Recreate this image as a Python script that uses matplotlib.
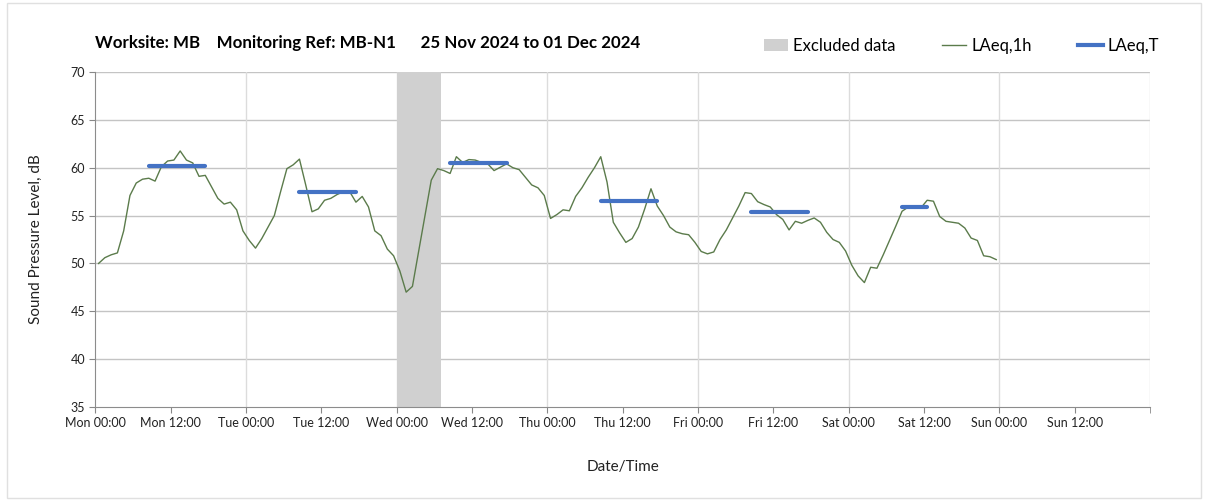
import matplotlib
matplotlib.use('Agg')
import matplotlib.pyplot as plt
from matplotlib.patches import Patch, Rectangle
from matplotlib.lines import Line2D

plt.rcParams['font.family'] = ['Lato', 'DejaVu Sans']

# hourly LAeq,1h values, Mon 00:00 onwards (one per hour)
laeq_1h = [
    50.0, 50.6, 50.9, 51.1, 53.4, 57.1, 58.4, 58.8, 58.9, 58.6, 60.1, 60.7,
    60.8, 61.75, 60.8, 60.5, 59.1, 59.2, 58.0, 56.8, 56.2, 56.4, 55.6, 53.4,
    52.4, 51.6, 52.6, 53.8, 55.0, 57.5, 59.9, 60.3, 60.9, 58.2, 55.4, 55.7,
    56.6, 56.8, 57.2, 57.5, 57.5, 56.4, 57.0, 55.9, 53.4, 52.9, 51.5, 50.8,
    49.2, 47.0, 47.6, 51.3, 55.0, 58.7, 59.9, 59.7, 59.4, 61.15, 60.55, 60.85,
    60.8, 60.55, 60.4, 59.7, 60.05, 60.4, 60.0, 59.8, 59.0, 58.2, 57.9, 57.1,
    54.7, 55.1, 55.6, 55.5, 57.0, 57.9, 59.0, 60.0, 61.15, 58.5, 54.3, 53.2,
    52.2, 52.6, 53.8, 55.7, 57.8, 56.0, 55.0, 53.8, 53.3, 53.1, 53.0, 52.2,
    51.25, 51.0, 51.2, 52.5, 53.5, 54.75, 56.0, 57.4, 57.3, 56.45, 56.15, 55.9,
    55.1, 54.6, 53.5, 54.4, 54.2, 54.5, 54.75, 54.3, 53.25, 52.5, 52.2, 51.3,
    49.8, 48.7, 48.0, 49.6, 49.5, 50.9, 52.4, 53.9, 55.45, 55.9, 55.8, 55.8,
    56.6, 56.5, 54.9, 54.4, 54.3, 54.2, 53.7, 52.65, 52.4, 50.8, 50.7, 50.4,
]
hours = [h + 0.5 for h in range(len(laeq_1h))]  # plotted at mid-hour

# daytime LAeq,T periods: (start hour, end hour, level)
laeq_t_start = [8.5, 32.5, 56.5, 80.5, 104.5, 128.5]
laeq_t_end = [17.5, 41.5, 65.5, 89.5, 113.5, 132.5]
laeq_t_level = [60.2, 57.5, 60.45, 56.5, 55.35, 55.9]

excluded_start = 48
excluded_end = 55

days = ['Mon', 'Tue', 'Wed', 'Thu', 'Fri', 'Sat', 'Sun']
tick_labels = []
for d in days:
    tick_labels.append(d + ' 00:00')
    tick_labels.append(d + ' 12:00')

fig = plt.figure(figsize=(12.08, 5.01), dpi=100)
ax = fig.add_axes([0.079, 0.1876, 0.873, 0.6687])

ax.axvspan(excluded_start, excluded_end, color='#d0d0d0', lw=0, zorder=1)
ax.plot(hours, laeq_1h, color='#5b7b4b', lw=1.0, zorder=3)
for s, e, v in zip(laeq_t_start, laeq_t_end, laeq_t_level):
    ax.plot([s, e], [v, v], color='#4472c4', lw=3, solid_capstyle='round', zorder=4)

ax.set_xlim(0, 168)
ax.set_ylim(35, 70)
ax.set_xticks(range(0, 168, 12))
ax.set_xticklabels(tick_labels, fontsize=9, color='#222222')
ax.set_yticks(range(35, 71, 5))
ax.tick_params(axis='y', labelsize=9, colors='#222222', length=4, color='#888888')
ax.tick_params(axis='x', length=4, color='#888888')
ax.set_xticks(range(0, 169, 24), minor=True)
ax.tick_params(axis='x', which='minor', length=4, color='#888888')

for y in range(40, 71, 5):
    ax.axhline(y, color='#c4c4c4', lw=1, zorder=0)
for x in range(24, 169, 24):
    ax.axvline(x, color='#dcdcdc', lw=1, zorder=0)

for side in ['top', 'right']:
    ax.spines[side].set_visible(False)
for side in ['left', 'bottom']:
    ax.spines[side].set_color('#8c8c8c')

ax.set_ylabel('Sound Pressure Level, dB', fontsize=11, color='#222222', labelpad=20)
ax.set_xlabel('Date/Time', fontsize=11, color='#222222', labelpad=22)

fig.text(95 / 1208, 1 - 43 / 501,
         'Worksite: MB    Monitoring Ref: MB-N1      25 Nov 2024 to 01 Dec 2024',
         fontsize=12.2, fontweight='bold', va='center', ha='left')

handles = [Patch(facecolor='#d0d0d0', edgecolor='none'),
           Line2D([], [], color='#5b7b4b', lw=1),
           Line2D([], [], color='#4472c4', lw=3)]
fig.legend(handles, ['Excluded data', 'LAeq,1h', 'LAeq,T'], ncol=3, frameon=False,
           loc='center right', bbox_to_anchor=(1174 / 1208, 1 - 46 / 501),
           fontsize=12, handlelength=1.45, columnspacing=2.8, handletextpad=0.3)

fig.patches.append(Rectangle((0.006, 0.006), 0.988, 0.988, transform=fig.transFigure,
                             fill=False, edgecolor='#e0e0e0', lw=1))

fig.savefig('out.png', dpi=100)
